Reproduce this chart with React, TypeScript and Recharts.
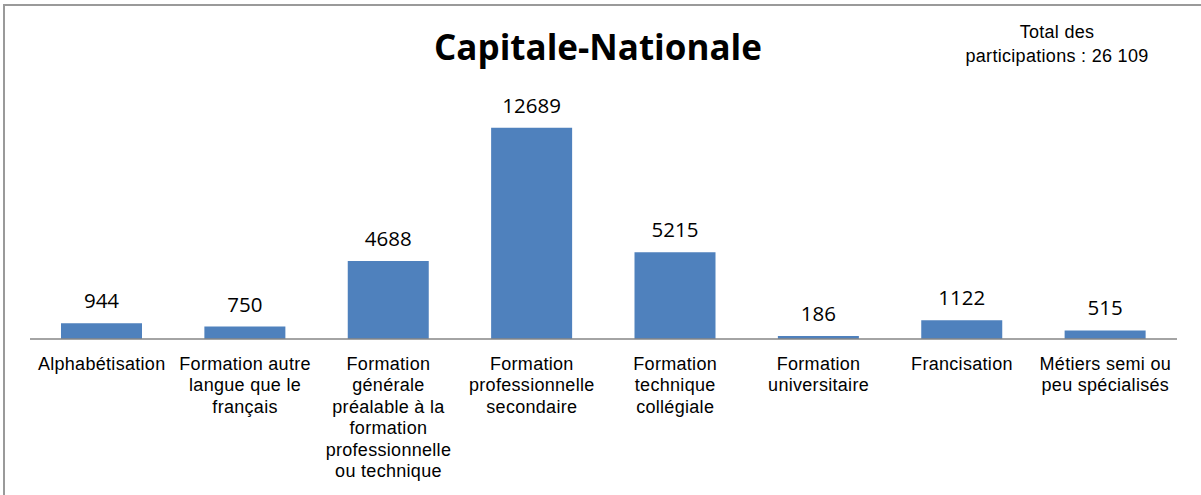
import { BarChart, Bar, XAxis, YAxis, LabelList } from "recharts";

const title = "Capitale-Nationale";
const totalLines = ["Total des", "participations : 26 109"];

// tick labels, broken into lines as in the picture
const categories = [
  "Alphabétisation",
  "Formation autre\nlangue que le\nfrançais",
  "Formation\ngénérale\npréalable à la\nformation\nprofessionnelle\nou technique",
  "Formation\nprofessionnelle\nsecondaire",
  "Formation\ntechnique\ncollégiale",
  "Formation\nuniversitaire",
  "Francisation",
  "Métiers semi ou\npeu spécialisés",
];
const participations = [944, 750, 4688, 12689, 5215, 186, 1122, 515];

const data = categories.map((category, i) => ({
  category,
  value: participations[i],
}));

const ARIAL = "'Liberation Sans', Arial, sans-serif";
const BODY = "'Open Sans', 'Noto Sans', sans-serif";

const CategoryTick = (props: any) => {
  const { x, y, payload } = props;
  const lines = String(payload.value).split("\n");
  return (
    <text
      x={x}
      y={y}
      textAnchor="middle"
      fontFamily={ARIAL}
      fontSize={18}
      letterSpacing={0.3}
      fill="#000"
    >
      {lines.map((line, i) => (
        <tspan key={i} x={x} dy={i === 0 ? 22.5 : 21.5}>
          {line}
        </tspan>
      ))}
    </text>
  );
};

const ValueLabel = (props: any) => {
  const x = Number(props.x);
  const y = Number(props.y);
  const width = Number(props.width);
  return (
    <text
      x={x + width / 2}
      y={y - 15}
      textAnchor="middle"
      fontFamily={BODY}
      fontSize={20.5}
      fill="#000"
    >
      {props.value}
    </text>
  );
};

const App = () => {
  return (
    <div
      style={{
        position: "absolute",
        left: 0,
        top: 0,
        width: 1201,
        height: 495,
        overflow: "hidden",
        background: "#fff",
      }}
    >
      <div
        style={{
          position: "absolute",
          left: 3,
          top: 4,
          width: 1300,
          height: 600,
          borderTop: "2px solid #9a9a9a",
          borderLeft: "2px solid #9a9a9a",
        }}
      />
      <div style={{ position: "absolute", left: 0, top: 0 }}>
        <BarChart
          width={1201}
          height={495}
          data={data}
          margin={{ top: 106, right: 24, bottom: 0, left: 30 }}
        >
          <XAxis
            dataKey="category"
            height={156}
            interval={0}
            tickLine={false}
            axisLine={{ stroke: "#868686", strokeWidth: 1.5 }}
            tick={<CategoryTick />}
          />
          <YAxis hide domain={[0, 14000]} />
          <Bar
            dataKey="value"
            fill="#4F81BD"
            barSize={81}
            isAnimationActive={false}
          >
            <LabelList dataKey="value" content={<ValueLabel />} />
          </Bar>
        </BarChart>
      </div>
      <svg
        width={1201}
        height={495}
        style={{ position: "absolute", left: 0, top: 0, pointerEvents: "none" }}
      >
        <text
          x={598}
          y={60}
          textAnchor="middle"
          fontFamily={BODY}
          fontWeight={700}
          fontSize={35}
          fill="#000"
        >
          {title}
        </text>
        {totalLines.map((line, i) => (
          <text
            key={i}
            x={1057}
            y={38 + i * 24}
            textAnchor="middle"
            fontFamily={ARIAL}
            fontSize={18}
            letterSpacing={0.3}
            fill="#000"
          >
            {line}
          </text>
        ))}
      </svg>
    </div>
  );
};

export default App;
